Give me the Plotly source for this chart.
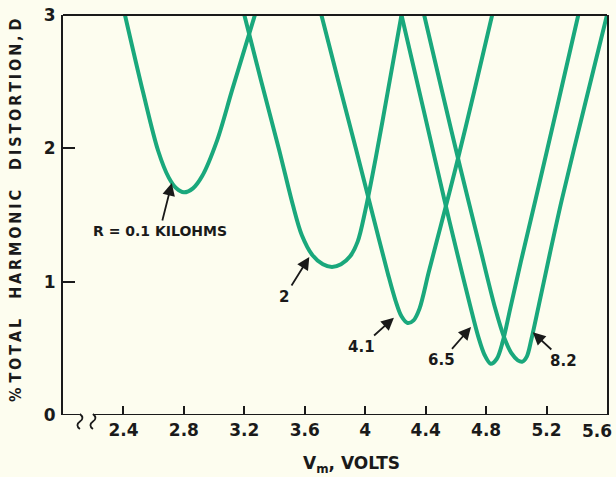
import plotly.graph_objects as go

# ---- data ----
r01_v = [2.41, 2.53, 2.63, 2.70, 2.75, 2.80, 2.86, 2.92, 3.02, 3.12, 3.27]
r01_d = [3.00, 2.42, 1.98, 1.78, 1.70, 1.67, 1.70, 1.79, 2.06, 2.44, 3.00]

r2_v = [3.20, 3.31, 3.43, 3.52, 3.58, 3.65, 3.72, 3.78, 3.84, 3.90, 3.95, 4.00, 4.07, 4.15, 4.24]
r2_d = [3.00, 2.51, 1.99, 1.58, 1.35, 1.20, 1.13, 1.11, 1.13, 1.19, 1.30, 1.53, 1.93, 2.43, 3.00]

r41_v = [3.71, 3.83, 3.94, 4.05, 4.15, 4.20, 4.24, 4.28, 4.32, 4.36, 4.42, 4.50, 4.60, 4.72, 4.84]
r41_d = [3.00, 2.47, 1.99, 1.50, 1.06, 0.86, 0.74, 0.69, 0.71, 0.80, 1.07, 1.42, 1.86, 2.42, 3.00]

r65_v = [4.24, 4.39, 4.535, 4.62, 4.69, 4.75, 4.79, 4.83, 4.87, 4.91, 4.96, 5.03, 5.13, 5.27, 5.41]
r65_d = [3.00, 2.27, 1.56, 1.16, 0.84, 0.58, 0.45, 0.385, 0.42, 0.55, 0.80, 1.15, 1.63, 2.31, 3.00]

r82_v = [4.39, 4.51, 4.63, 4.75, 4.86, 4.92, 4.97, 5.01, 5.04, 5.07, 5.10, 5.15, 5.22, 5.30, 5.45, 5.60]
r82_d = [3.00, 2.42, 1.85, 1.30, 0.80, 0.58, 0.46, 0.41, 0.40, 0.44, 0.57, 0.83, 1.20, 1.61, 2.31, 3.00]

series_v = [r01_v, r2_v, r41_v, r65_v, r82_v]
series_d = [r01_d, r2_d, r41_d, r65_d, r82_d]
curve_labels = ["R = 0.1 KILOHMS", "2", "4.1", "6.5", "8.2"]

x_tickvals = [2.4, 2.8, 3.2, 3.6, 4.0, 4.4, 4.8, 5.2, 5.6]
x_ticktext = ["2.4", "2.8", "3.2", "3.6", "4", "4.4", "4.8", "5.2", "5.6"]
y_tickvals = [0, 1, 2, 3]
y_ticktext = ["0", "1", "2", "3"]

# ---- styling / placement ----
LINE = "#1aa87c"
INK = "#1a1a1a"
BG = "#fdfdef"
FONT = "DejaVu Sans"
NB = "\u00a0"
THIN = "\u2009"
X_RANGE = [2.0, 5.6]
Y_RANGE = [0, 3]
W, H = 616, 477
M = dict(l=63, r=9, t=15, b=62)
PLOT_W = W - M["l"] - M["r"]
PLOT_H = H - M["t"] - M["b"]
TICKFONT = dict(family=FONT, size=17, color=INK, weight="bold")

# arrow head (data) and label centre (data)
arrow_cfg = [
    dict(head=(2.72, 1.74), lab=(2.64, 1.38), size=14),
    dict(head=(3.63, 1.185), lab=(3.465, 0.885), size=15),
    dict(head=(4.19, 0.73), lab=(3.974, 0.51), size=15),
    dict(head=(4.70, 0.66), lab=(4.508, 0.41), size=15),
    dict(head=(5.109, 0.62), lab=(5.314, 0.405), size=15),
]

fig = go.Figure()
for v, d, name in zip(series_v, series_d, curve_labels):
    fig.add_trace(go.Scatter(
        x=v, y=d, mode="lines", name=name,
        line=dict(color=LINE, width=4, shape="spline", smoothing=0.9),
        showlegend=False, hoverinfo="skip",
    ))

annotations = []
for lbl, c in zip(curve_labels, arrow_cfg):
    annotations.append(dict(
        x=c["head"][0], y=c["head"][1], xref="x", yref="y",
        ax=c["lab"][0], ay=c["lab"][1], axref="x", ayref="y",
        text=lbl, showarrow=True, arrowhead=2, arrowsize=1.4,
        arrowwidth=1.8, arrowcolor=INK, standoff=0, borderpad=2,
        font=dict(family=FONT, size=c["size"], color=INK, weight="bold"),
    ))


def spaced(word):
    return THIN.join(list(word))


ytitle = (spaced("%") + NB + spaced("TOTAL") + NB * 4 + spaced("HARMONIC") + NB * 4
          + spaced("DISTORTION,") + NB + "D")
annotations.append(dict(
    x=0, y=0.5125, xref="paper", yref="paper", text=ytitle, textangle=-90,
    showarrow=False, xanchor="center", yanchor="middle", xshift=-48,
    font=dict(family="Liberation Sans Narrow, DejaVu Sans Condensed, Liberation Sans",
              size=16, color=INK, weight="bold"),
))
annotations.append(dict(
    x=0.53, y=0, xref="paper", yref="paper", text="V<sub>m</sub>, VOLTS",
    showarrow=False, xanchor="center", yanchor="middle", yshift=-49,
    font=dict(family=FONT, size=17, color=INK, weight="bold"),
))
# last x tick label sits flush against the right edge, as in the reference
annotations.append(dict(
    x=x_tickvals[-1], y=0, xref="x", yref="paper", text=x_ticktext[-1],
    showarrow=False, xanchor="right", yanchor="middle", xshift=7, yshift=-16,
    font=TICKFONT,
))

# frame and broken bottom axis
shapes = [
    dict(type="line", xref="paper", yref="paper", x0=0, x1=1, y0=1, y1=1,
         line=dict(color=INK, width=2)),
    dict(type="line", xref="x", yref="y", x0=2.0, x1=2.112, y0=0, y1=0,
         line=dict(color=INK, width=2)),
    dict(type="line", xref="x", yref="y", x0=2.198, x1=5.6, y0=0, y1=0,
         line=dict(color=INK, width=2)),
]


def squiggle(x_data):
    # S-shaped axis-break mark, built in paper units from pixel offsets
    x0 = (x_data - X_RANGE[0]) / (X_RANGE[1] - X_RANGE[0])
    sx = 1.0 / PLOT_W
    sy = 1.0 / PLOT_H
    pts = [(0, 1), (5, -3), (0, -6.5), (-5, -10), (0, -14)]
    p = [(x0 + dx * sx, dy * sy) for dx, dy in pts]
    return ("M{:.5f},{:.5f} Q{:.5f},{:.5f} {:.5f},{:.5f} Q{:.5f},{:.5f} {:.5f},{:.5f}"
            .format(p[0][0], p[0][1], p[1][0], p[1][1], p[2][0], p[2][1],
                    p[3][0], p[3][1], p[4][0], p[4][1]))


for xb in (2.112, 2.198):
    shapes.append(dict(
        type="path", xref="paper", yref="paper", path=squiggle(xb),
        line=dict(color=INK, width=1.8), layer="above",
    ))

fig.update_layout(
    template="none",
    width=W, height=H, autosize=False,
    margin=M,
    paper_bgcolor=BG, plot_bgcolor=BG,
    annotations=annotations, shapes=shapes,
    xaxis=dict(
        range=X_RANGE, tickvals=x_tickvals[:-1], ticktext=x_ticktext[:-1],
        ticks="inside", ticklen=9, tickwidth=1.6, tickcolor=INK,
        showline=False, showgrid=False, zeroline=False, automargin=False,
        tickfont=TICKFONT, ticklabelstandoff=3,
    ),
    yaxis=dict(
        range=Y_RANGE, tickvals=y_tickvals, ticktext=y_ticktext,
        ticks="inside", ticklen=12, tickwidth=1.6, tickcolor=INK,
        showline=True, linecolor=INK, linewidth=2, mirror=True,
        showgrid=False, zeroline=False, automargin=False,
        tickfont=TICKFONT, ticklabelstandoff=2,
    ),
)

fig.write_html(
    "out.html",
    config={"displayModeBar": False},
    post_script="document.body.style.margin='0';document.body.style.background='#fdfdef';",
)
